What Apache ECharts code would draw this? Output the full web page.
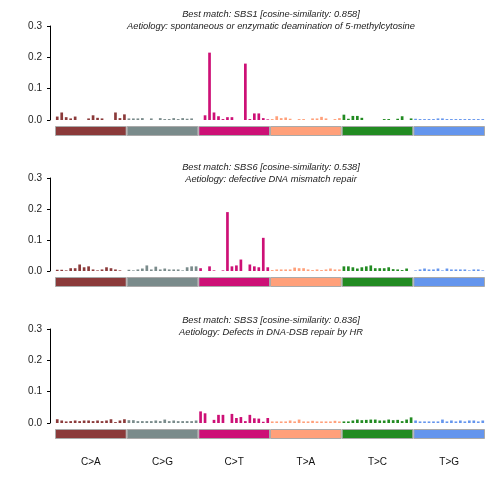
<!DOCTYPE html>
<html><head><meta charset="utf-8">
<script src="https://cdn.jsdelivr.net/npm/echarts@6/dist/echarts.min.js"></script>
<style>html,body{margin:0;padding:0;background:#fff}#c{width:504px;height:504px}</style>
</head><body><div id="c"></div>
<script>
var mutTypes = ['C>A','C>G','C>T','T>A','T>C','T>G'];
var typeColors = ['#8B3A3A','#7A8B8B','#CD1076','#FFA07A','#228B22','#6495ED'];
var yTicks = [0, 0.1, 0.2, 0.3];

var titles1 = ['Best match: SBS1 [cosine-similarity: 0.858]', 'Aetiology: spontaneous or enzymatic deamination of 5-methylcytosine'];
var titles2 = ['Best match: SBS6 [cosine-similarity: 0.538]', 'Aetiology: defective DNA mismatch repair'];
var titles3 = ['Best match: SBS3 [cosine-similarity: 0.836]', 'Aetiology: Defects in DNA-DSB repair by HR'];

var sbs1 = [
 0.011,0.024,0.009,0.005,0.011,0,0,0.005,0.015,0.007,0.005,0,0,0.024,0.006,0.018,
 0.005,0.005,0.005,0.006,0,0.005,0,0.006,0.003,0.003,0.006,0.003,0.006,0.004,0.005,0,
 0,0.015,0.215,0.024,0.012,0.003,0.009,0.009,0,0,0.18,0.003,0.021,0.021,0.006,0.002,
 0.003,0.012,0.006,0.008,0.004,0,0.003,0.003,0,0.005,0.005,0.01,0.005,0,0.003,0.006,
 0.017,0.004,0.013,0.013,0.007,0,0,0,0,0.003,0.003,0,0.004,0.012,0,0.005,
 0.004,0.003,0.003,0.003,0.003,0.005,0.005,0.003,0.003,0.003,0.003,0.003,0.003,0.003,0.003,0.003
];
var sbs6 = [
 0.004,0.004,0.002,0.009,0.009,0.021,0.012,0.015,0.005,0.002,0.005,0.012,0.009,0.005,0.002,0,
 0.004,0.002,0.005,0.008,0.018,0.005,0.014,0.005,0.008,0.005,0.005,0.005,0.002,0.012,0.015,0.015,
 0.009,0,0.015,0.002,0,0.002,0.19,0.015,0.018,0.037,0,0.021,0.015,0.012,0.107,0.012,
 0.003,0.005,0.005,0.005,0.005,0.011,0.009,0.009,0.005,0.003,0.005,0.003,0.005,0.008,0.005,0.005,
 0.015,0.015,0.012,0.008,0.012,0.015,0.018,0.009,0.009,0.009,0.012,0.006,0.005,0.003,0.008,0,
 0.002,0.005,0.008,0.005,0.005,0.008,0.002,0.008,0.005,0.005,0.005,0.005,0.002,0.005,0.005,0.002
];
var sbs3 = [
 0.012,0.008,0.005,0.006,0.008,0.006,0.008,0.008,0.006,0.008,0.006,0.008,0.012,0.003,0.008,0.012,
 0.009,0.009,0.006,0.006,0.006,0.006,0.008,0.006,0.011,0.006,0.008,0.006,0.006,0.006,0.006,0.008,
 0.037,0.031,0,0.01,0.026,0.026,0,0.029,0.016,0.019,0.006,0.026,0.015,0.014,0.004,0.016,
 0.005,0.005,0.005,0.005,0.008,0.005,0.011,0.005,0.005,0.007,0.005,0.005,0.005,0.005,0.007,0.005,
 0.005,0.005,0.008,0.011,0.009,0.01,0.011,0.011,0.008,0.008,0.011,0.009,0.01,0.006,0.011,0.018,
 0.008,0.005,0.005,0.005,0.005,0.005,0.011,0.005,0.008,0.005,0.008,0.005,0.008,0.008,0.005,0.008
];

var bases = ['A','C','G','T'];
var contexts = [];
mutTypes.forEach(function(m){
  bases.forEach(function(a){ bases.forEach(function(b){ contexts.push(a + '[' + m + ']' + b); }); });
});
var stripOnes = mutTypes.map(function(){ return 1; });
var FONT = 'Liberation Sans, Arial, sans-serif';

var panels = [
  {titles: titles1, data: sbs1, top: 26, zero: 120, ttop: 3},
  {titles: titles2, data: sbs6, top: 178, zero: 271, ttop: 156},
  {titles: titles3, data: sbs3, top: 329, zero: 423, ttop: 309}
];

var grid = [], xAxis = [], yAxis = [], series = [], title = [];
panels.forEach(function(p, i){
  title.push({
    text: p.titles[0] + '\n' + p.titles[1],
    left: 266, top: p.ttop, textAlign: 'center',
    textStyle: {fontSize: 9.3, fontStyle: 'italic', fontWeight: 'normal', color: '#222', lineHeight: 12, fontFamily: FONT}
  });
  grid.push({left: 55, width: 430, top: p.top, height: p.zero - p.top});
  grid.push({left: 55, width: 430, top: p.zero + 6, height: 10});
  var gi = i * 2;
  xAxis.push({type: 'category', gridIndex: gi, data: contexts, show: false, boundaryGap: true});
  xAxis.push({type: 'category', gridIndex: gi + 1, data: mutTypes, boundaryGap: true,
    axisLine: {show: false}, axisTick: {show: false},
    axisLabel: {show: i === 2, margin: 18, fontSize: 10, color: '#111', fontFamily: FONT}});
  yAxis.push({type: 'value', gridIndex: gi, min: 0, max: 0.3, interval: 0.1, offset: 5,
    axisLine: {show: true, lineStyle: {color: '#000', width: 1}},
    axisTick: {show: true, length: 3, lineStyle: {color: '#000'}},
    splitLine: {show: false},
    axisLabel: {fontSize: 10, color: '#222', margin: 8, fontFamily: FONT,
      formatter: function(v){ return v.toFixed(1); }}});
  yAxis.push({type: 'value', gridIndex: gi + 1, min: 0, max: 1, show: false});
  series.push({type: 'bar', xAxisIndex: gi, yAxisIndex: gi, data: p.data, barCategoryGap: '40%',
    itemStyle: {color: function(params){ return typeColors[Math.floor(params.dataIndex / 16)]; }},
    animation: false, silent: true});
  series.push({type: 'bar', xAxisIndex: gi + 1, yAxisIndex: gi + 1, barWidth: '100%',
    data: stripOnes.map(function(v, k){ return {value: v, itemStyle: {color: typeColors[k]}}; }),
    itemStyle: {borderColor: '#aaaaaa', borderWidth: 1}, animation: false, silent: true});
});

var chart = echarts.init(document.getElementById('c'), null, {renderer: 'canvas'});
chart.setOption({animation: false, backgroundColor: '#fff', title: title, grid: grid, xAxis: xAxis, yAxis: yAxis, series: series});
</script></body></html>
